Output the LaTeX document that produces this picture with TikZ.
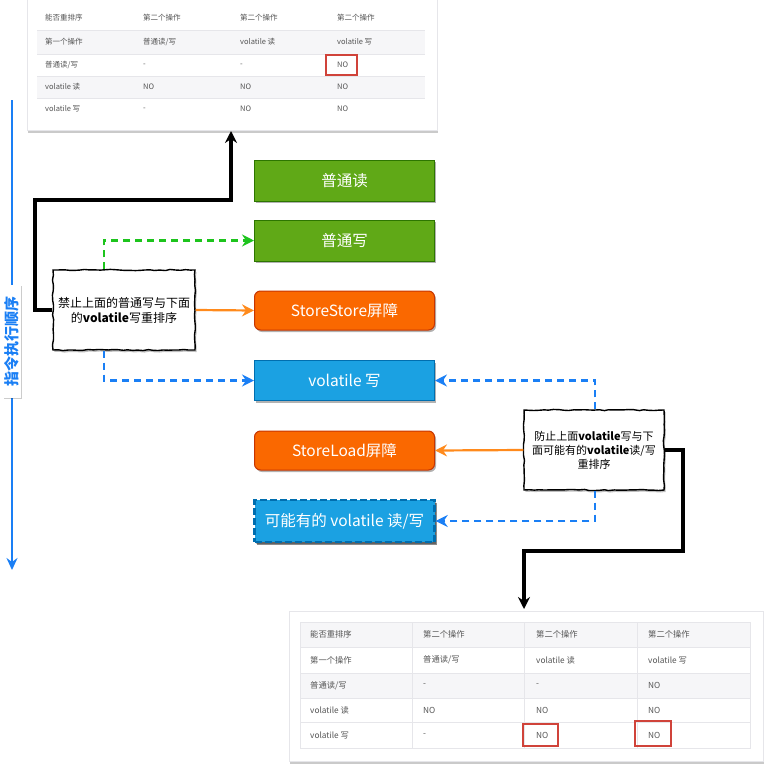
\documentclass[tikz,border=0pt]{standalone}
\usepackage{fontspec}
\setmainfont{Noto Sans CJK SC}
\usetikzlibrary{shadows,decorations.pathmorphing,arrows.meta,calc}
\definecolor{gfill}{HTML}{60A917}
\definecolor{gline}{HTML}{2D7600}
\definecolor{ofill}{HTML}{FA6800}
\definecolor{oline}{HTML}{C73500}
\definecolor{bfill}{HTML}{1BA1E2}
\definecolor{bline}{HTML}{006EAF}
\definecolor{dgreen}{HTML}{1DC41D}
\definecolor{dblue}{HTML}{1A7FF5}
\definecolor{oarrow}{HTML}{FF8A1C}
\definecolor{redbox}{HTML}{D0433A}
\definecolor{tgray}{HTML}{555555}
\definecolor{rowgray}{HTML}{F6F6F8}
\definecolor{linegray}{HTML}{E6E6EA}
\newcommand\tcell[4]{\node[tcellsty] (#1) at (#2,#3) {#4};}
\begin{document}
\begin{tikzpicture}[x=1pt,y=-1pt,
  box/.style={minimum width=180pt, minimum height=40pt, inner sep=0pt, text=white,
    font=\fontsize{15.5}{17}\selectfont, line width=1pt,
    drop shadow={shadow xshift=1.5pt,shadow yshift=-2pt,opacity=0.3,fill=black}},
  gbox/.style={box, fill=gfill, draw=gline},
  obox/.style={box, fill=ofill, draw=oline, rounded corners=6pt},
  bbox/.style={box, fill=bfill, draw=bline},
  note/.style={draw=black, fill=white, line width=1.4pt, align=center, inner sep=2pt,
    decorate, decoration={random steps, segment length=5pt, amplitude=0.6pt},
    drop shadow={shadow xshift=1.5pt,shadow yshift=-2pt,opacity=0.25,fill=black}},
  tip/.style={-{Stealth[length=12pt,width=12pt,inset=4pt]}},
  blk/.style={tip, line width=3.2pt, draw=black},
  gdash/.style={tip, line width=2.6pt, draw=dgreen, dash pattern=on 7pt off 5pt},
  bdash/.style={tip, line width=2.6pt, draw=dblue, dash pattern=on 7pt off 5pt},
  oarr/.style={tip, line width=2.2pt, draw=oarrow},
  frame/.style={fill=white, draw=linegray, line width=0.5pt,
    drop shadow={shadow xshift=1pt,shadow yshift=-3pt,opacity=0.35,fill=black!60}},
  tcellsty/.style={anchor=west, inner sep=0pt, text=tgray},
  redframe/.style={draw=redbox, line width=1.6pt, inner sep=0pt}
]
\useasboundingbox (0,0) rectangle (773,771);

% ---------- top table ----------
\node[frame, minimum width=410pt, minimum height=134pt, inner sep=0pt] (tbl1) at (232,63) {};
\fill[rowgray] (37,30) rectangle (425,54);
\fill[rowgray] (37,76) rectangle (425,98);
\foreach \yy in {30,54,76,98} \draw[linegray, line width=0.5pt] (37,\yy) -- (425,\yy);
\begin{scope}[every node/.append style={font=\fontsize{7.5}{9}\selectfont}]
\tcell{ta11}{45}{18}{能否重排序}
\tcell{ta12}{143}{18}{第二个操作}
\tcell{ta13}{240}{18}{第二个操作}
\tcell{ta14}{337}{18}{第二个操作}
\tcell{ta21}{45}{42}{第一个操作}
\tcell{ta22}{143}{42}{普通读/写}
\tcell{ta23}{240}{42}{volatile 读}
\tcell{ta24}{337}{42}{volatile 写}
\tcell{ta31}{45}{65}{普通读/写}
\tcell{ta32}{143}{65}{-}
\tcell{ta33}{240}{65}{-}
\tcell{ta34}{337}{65}{NO}
\tcell{ta41}{45}{87}{volatile 读}
\tcell{ta42}{143}{87}{NO}
\tcell{ta43}{240}{87}{NO}
\tcell{ta44}{337}{87}{NO}
\tcell{ta51}{45}{109}{volatile 写}
\tcell{ta52}{143}{109}{-}
\tcell{ta53}{240}{109}{NO}
\tcell{ta54}{337}{109}{NO}
\end{scope}
\node[redframe, minimum width=31pt, minimum height=20pt] (rb1) at (341.5,65) {};

% ---------- bottom table ----------
\node[frame, minimum width=474pt, minimum height=150pt, inner sep=0pt] (tbl2) at (526,686) {};
\fill[rowgray] (300,622) rectangle (750,647);
\fill[rowgray] (300,673) rectangle (750,698);
\foreach \yy in {647,673,698,722} \draw[linegray, line width=0.5pt] (300,\yy) -- (750,\yy);
\foreach \xx in {412,524,637} \draw[linegray, line width=0.5pt] (\xx,622) -- (\xx,748);
\draw[linegray, line width=0.5pt] (300,622) rectangle (750,748);
\begin{scope}[every node/.append style={font=\fontsize{8.3}{10}\selectfont}]
\tcell{tb11}{310}{634.5}{能否重排序}
\tcell{tb12}{423}{634.5}{第二个操作}
\tcell{tb13}{536}{634.5}{第二个操作}
\tcell{tb14}{648}{634.5}{第二个操作}
\tcell{tb21}{310}{660}{第一个操作}
\tcell{tb22}{423}{660}{普通读/写}
\tcell{tb23}{536}{660}{volatile 读}
\tcell{tb24}{648}{660}{volatile 写}
\tcell{tb31}{310}{685.5}{普通读/写}
\tcell{tb32}{423}{685.5}{-}
\tcell{tb33}{536}{685.5}{-}
\tcell{tb34}{648}{685.5}{NO}
\tcell{tb41}{310}{710}{volatile 读}
\tcell{tb42}{423}{710}{NO}
\tcell{tb43}{536}{710}{NO}
\tcell{tb44}{648}{710}{NO}
\tcell{tb51}{310}{735}{volatile 写}
\tcell{tb52}{423}{735}{-}
\tcell{tb53}{536}{735}{NO}
\tcell{tb54}{648}{735}{NO}
\end{scope}
\node[redframe, minimum width=35pt, minimum height=22pt] (rb2) at (540.5,735) {};
\node[redframe, minimum width=36pt, minimum height=25pt] (rb3) at (653,733.5) {};

% ---------- order arrow ----------
\coordinate (os) at (12,100);
\coordinate (oe) at (12,570);
\draw[line width=2.4pt, dblue, -{Stealth[length=12pt,width=11pt,inset=4pt]}] (os) -- (oe);
\node[fill=white, text=dblue, rotate=90, inner sep=1.5pt, minimum width=113pt,
  font=\fontsize{15}{16}\selectfont\bfseries,
  drop shadow={shadow xshift=1pt,shadow yshift=-1pt,opacity=0.2,fill=black}] (ord) at (12,341) {指令执行顺序};

% ---------- boxes ----------
\node[gbox, minimum height=41pt] (pr) at (344.5,180.5) {普通读};
\node[gbox, minimum height=41pt] (pw) at (344.5,240.5) {普通写};
\node[obox, minimum height=39pt] (ss) at (344.5,310.5) {StoreStore屏障};
\node[bbox] (vw) at (344.5,380.5) {volatile 写};
\node[obox, minimum height=39pt] (sl) at (344.5,450.5) {StoreLoad屏障};
\node[bbox, minimum height=42pt, line width=2.4pt, dash pattern=on 7pt off 3pt,
  drop shadow={shadow xshift=2pt,shadow yshift=-3pt,opacity=0.45,fill=black}] (mv) at (344.5,521) {可能有的 volatile 读/写};

% ---------- notes ----------
\node[note, minimum width=142pt, minimum height=80pt, font=\fontsize{12}{15}\selectfont] (n1) at (124,310)
  {禁止上面的普通写与下面\\的{\bfseries volatile}写重排序};
\node[note, minimum width=140pt, minimum height=80pt, font=\fontsize{11}{14}\selectfont] (n2) at (594,450)
  {防止上面{\bfseries volatile}写与下\\面可能有的{\bfseries volatile}读/写\\重排序};

% ---------- connectors ----------
\coordinate (c1) at (35,200);
\coordinate (a1) at (231,131);
\draw[blk] (n1.west) -| (c1) -| (a1);
\draw[gdash] ($(n1.north)+(-20,0)$) |- (pw.west);
\draw[oarr] (n1.east) -- (ss.west);
\draw[bdash] ($(n1.south)+(-20,0)$) |- (vw.west);

\coordinate (c2) at (683,551);
\coordinate (a2) at (524,609);
\draw[blk] (n2.east) -| (c2) -| (a2);
\draw[bdash] ($(n2.north)+(1,0)$) |- (vw.east);
\draw[oarr] (n2.west) -- (sl.east);
\draw[bdash] ($(n2.south)+(1,0)$) |- (mv.east);
\end{tikzpicture}
\end{document}
